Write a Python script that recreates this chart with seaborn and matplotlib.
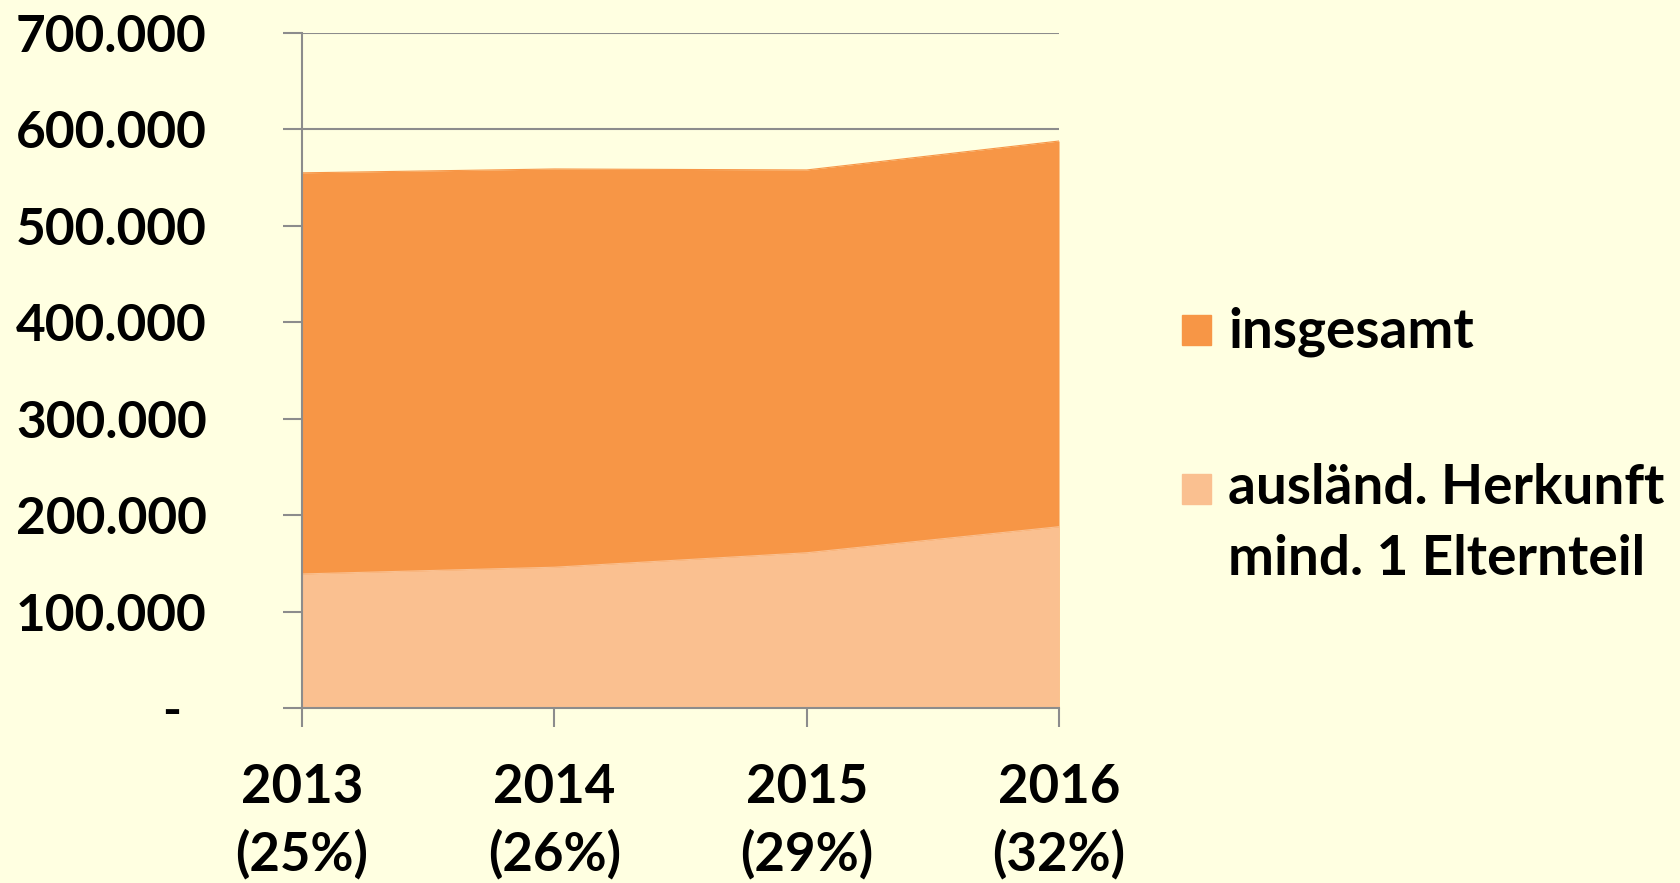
import matplotlib
matplotlib.use("Agg")
import matplotlib.pyplot as plt
import matplotlib.ticker as mticker
from matplotlib.patches import Rectangle
import seaborn as sns
import pandas as pd

years = ["2013", "2014", "2015", "2016"]
shares = ["25%", "26%", "29%", "32%"]
insgesamt = [555000, 559000, 558000, 588000]
auslaend = [139000, 146000, 161000, 188000]
series_labels = ["insgesamt", "ausländ. Herkunft\nmind. 1 Elternteil"]
yticks = [0, 100000, 200000, 300000, 400000, 500000, 600000, 700000]

BG = "#FFFFE1"
C_TOTAL = "#F79646"
C_FOREIGN = "#FAC090"
GRID = "#8C8C8C"

sns.set_theme(style="white")
plt.rcParams["font.family"] = ["Lato", "DejaVu Sans"]
plt.rcParams["font.weight"] = "bold"
plt.rcParams["text.color"] = "black"

fig = plt.figure(figsize=(16.81, 8.83), dpi=100, facecolor=BG)
ax = fig.add_axes([0.1797, 0.1982, 0.4503, 0.7644])
ax.set_facecolor(BG)

df = pd.DataFrame({"x": list(range(len(years))), "insgesamt": insgesamt, "ausl": auslaend})
ax.fill_between(df["x"], 0, df["insgesamt"], color=C_TOTAL, lw=0, zorder=2)
ax.fill_between(df["x"], 0, df["ausl"], color=C_FOREIGN, lw=0, zorder=3)
sns.lineplot(data=df, x="x", y="insgesamt", ax=ax, color=C_TOTAL, lw=0.8, zorder=2)
sns.lineplot(data=df, x="x", y="ausl", ax=ax, color=C_FOREIGN, lw=0.8, zorder=3)

ax.set_xlim(0, len(years) - 1)
ax.set_ylim(0, 700000)
ax.set_yticks(yticks)
ax.yaxis.set_major_formatter(mticker.FuncFormatter(
    lambda v, p: "-  " if v == 0 else f"{int(v):,}".replace(",", ".")))
ax.set_xticks(range(len(years)))
ax.set_xticklabels([f"{y}\n({s})" for y, s in zip(years, shares)], linespacing=1.4)
ax.set_xlabel("")
ax.set_ylabel("")

ax.grid(axis="y", color=GRID, lw=1.5, zorder=1)
ax.grid(axis="x", visible=False)
ax.set_axisbelow(True)
for s in ["top", "right"]:
    ax.spines[s].set_visible(False)
for s in ["left", "bottom"]:
    ax.spines[s].set_color(GRID)
    ax.spines[s].set_linewidth(1.5)
    ax.spines[s].set_zorder(5)

ax.tick_params(axis="y", direction="out", length=13.7, width=1.5, color=GRID,
               labelsize=37, pad=55, left=True)
ax.tick_params(axis="x", direction="out", length=13.7, width=1.5, color=GRID,
               labelsize=38, pad=26, bottom=True)
for lab in ax.get_xticklabels() + ax.get_yticklabels():
    lab.set_fontweight("bold")
    lab.set_color("black")

W, H = 1681, 883
def fx(px): return px / W
def fy(py): return 1 - py / H

fig.patches.append(Rectangle((fx(1182), fy(345)), fx(29), 30 / H, transform=fig.transFigure,
                             color=C_TOTAL, zorder=5))
fig.patches.append(Rectangle((fx(1182), fy(504)), fx(29), 30 / H, transform=fig.transFigure,
                             color=C_FOREIGN, zorder=5))
fig.text(fx(1228), fy(332), series_labels[0], fontsize=39.5, fontweight="bold",
         va="center", ha="left", color="black")
fig.text(fx(1228), fy(463), series_labels[1], fontsize=39.5, fontweight="bold",
         va="top", ha="left", linespacing=1.52, color="black")

fig.savefig("out.png", dpi=100, facecolor=BG)
